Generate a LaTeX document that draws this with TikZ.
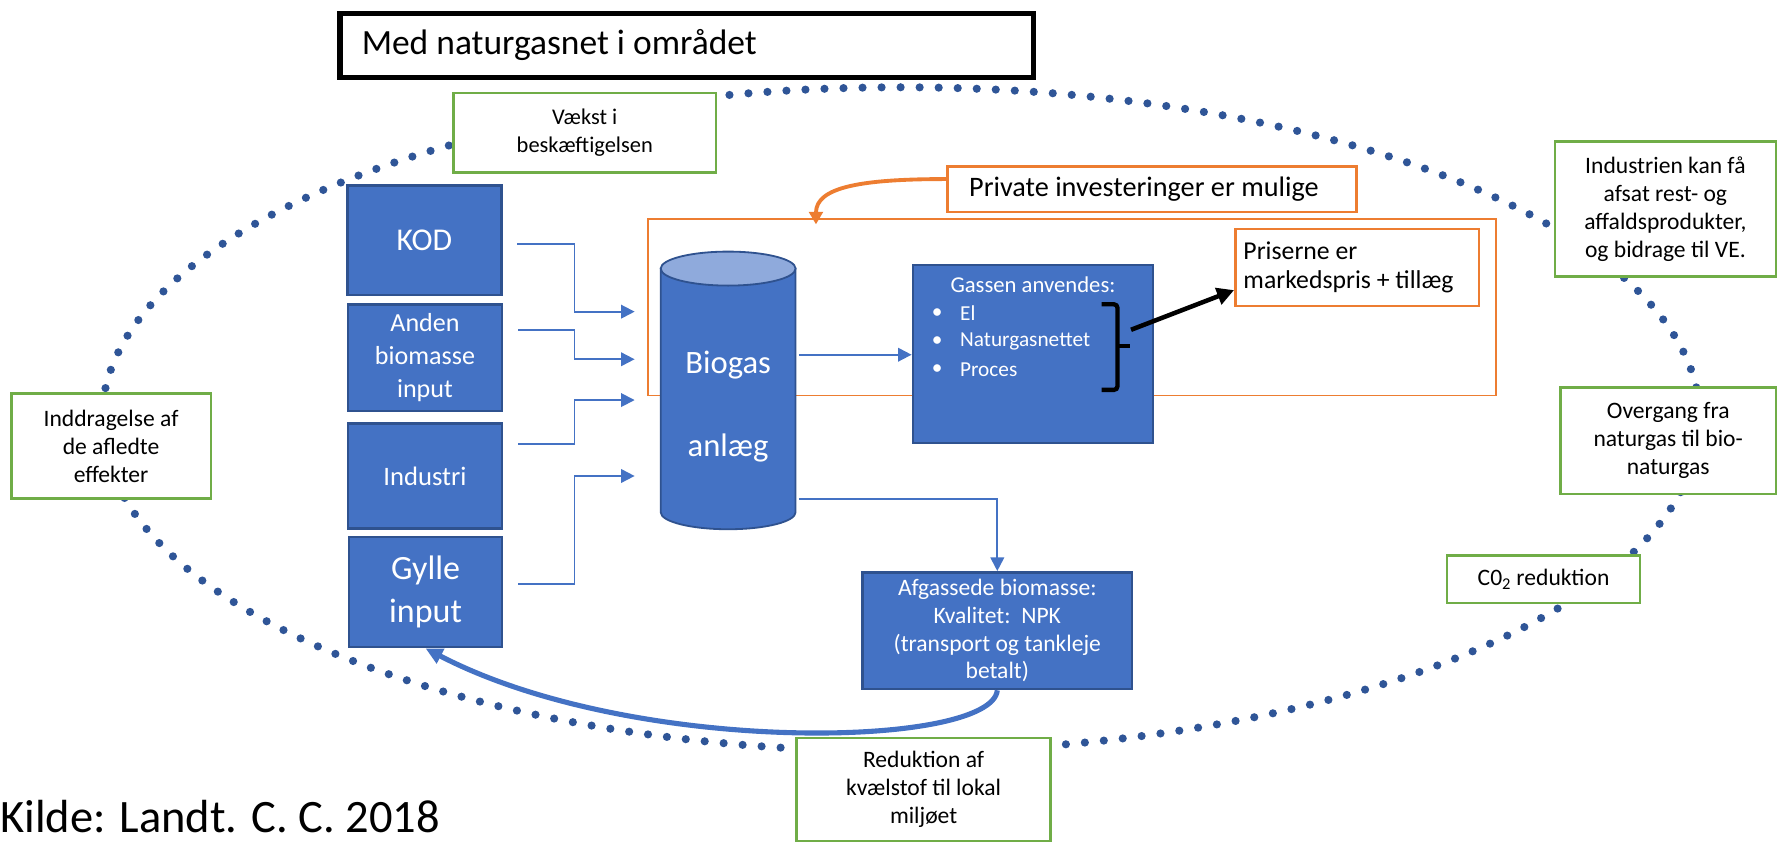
\documentclass[tikz,border=0pt]{standalone}
\usepackage{fontspec}
\setmainfont{Carlito}
\usetikzlibrary{arrows.meta}
\definecolor{bfill}{HTML}{4472C4}
\definecolor{bedge}{HTML}{2F528F}
\definecolor{ctop}{HTML}{8FAADC}
\definecolor{gline}{HTML}{70AD47}
\definecolor{oline}{HTML}{ED7D31}
\definecolor{dotc}{HTML}{2F5597}
\begin{document}
\begin{tikzpicture}[x=1pt,y=-1pt,
  bluebox/.style={draw=bedge, fill=bfill, line width=2.2, text=white, align=center, inner sep=0pt},
  greenbox/.style={draw=gline, fill=white, line width=2.2, align=center, inner sep=0pt, font=\fontsize{20.8}{24.7}\selectfont},
  orangebox/.style={draw=oline, fill=white, line width=2.2, inner sep=0pt},
  conn/.style={draw=bfill, line width=1.6, -{Triangle[length=12pt,width=12pt]}},
  dotline/.style={draw=dotc, line width=7.2, line cap=round, dash pattern=on 0pt off 16.8pt}
]
\useasboundingbox (0,0) rectangle (1568,745);
% dotted ellipse
\draw[dotline] (795,370) ellipse[x radius=705, y radius=293];
% big orange frame
\draw[draw=oline, line width=1.4] (572,193) rectangle (1320,349);
% title
\node[draw=black, line width=4.5, minimum width=612, minimum height=56, inner sep=0pt] (title) at (606,40) {};
\node[anchor=west, inner sep=0pt, font=\fontsize{31.3}{34}\selectfont] (titletext) at (319,40) {Med naturgasnet i området};
% green boxes
\node[greenbox, minimum width=232, minimum height=70, font=\fontsize{19.8}{24.5}\selectfont] (vaekst) at (516,117) {Vækst i\\beskæftigelsen};
\node[greenbox, minimum width=176, minimum height=93] (indd) at (98,393.5) {Inddragelse af\\de afledte\\effekter};
\node[greenbox, minimum width=195, minimum height=119] (industrien) at (1469.5,184.5) {Industrien kan få\\afsat rest- og\\affaldsprodukter,\\og bidrage til VE.};
\node[greenbox, minimum width=190, minimum height=94] (overgang) at (1472,389) {Overgang fra\\naturgas til bio-\\naturgas};
\node[greenbox, minimum width=170, minimum height=42] (co2) at (1362,511) {C0\textsubscript{2} reduktion};
\node[greenbox, minimum width=224, minimum height=91] (reduk) at (815,696.5) {Reduktion af\\kvælstof til lokal\\miljøet};
% orange boxes
\node[orangebox, minimum width=361, minimum height=40] (private) at (1016.5,167) {};
\node[anchor=west, inner sep=0pt, font=\fontsize{24.9}{28}\selectfont] at (855,167) {Private investeringer er mulige};
\node[orangebox, minimum width=215, minimum height=68] (priser) at (1197.5,236) {};
\node[anchor=west, inner sep=0pt, align=left, font=\fontsize{22.7}{26}\selectfont] at (1097,236) {Priserne er\\markedspris + tillæg};
% blue input boxes
\node[bluebox, minimum width=136, minimum height=97, font=\fontsize{28}{30}\selectfont] (kod) at (374.5,212) {KOD};
\node[bluebox, minimum width=136, minimum height=94, font=\fontsize{23}{29.4}\selectfont] (anden) at (375,315.5) {Anden\\biomasse\\input};
\node[bluebox, minimum width=136, minimum height=93, font=\fontsize{23.5}{26}\selectfont] (industri) at (375,420) {Industri};
\node[bluebox, minimum width=135, minimum height=97, font=\fontsize{30}{38}\selectfont] (gylle) at (375.5,522.5) {Gylle\\input};
% cylinder
\draw[draw=bedge, fill=bfill, line width=1.6] (583,237) -- (583,452) arc[start angle=180, end angle=0, x radius=59.5, y radius=15] -- (702,237) -- cycle;
\draw[draw=bedge, fill=ctop, line width=1.6] (642.5,237) ellipse[x radius=59.5, y radius=15];
\node[text=white, font=\fontsize{28.8}{32}\selectfont] (biogas) at (642.5,322) {Biogas};
\node[text=white, font=\fontsize{28.8}{32}\selectfont] (anlaeg) at (642.5,395) {anlæg};
\coordinate (cylout) at (705,313);
\coordinate (cylout2) at (705,440);
% Gassen box
\node[bluebox, minimum width=212, minimum height=157] (gassen) at (911.5,312.5) {};
\node[text=white, inner sep=0pt, font=\fontsize{20}{24}\selectfont] at (911.5,251) {Gassen anvendes:};
\foreach \yy/\tt in {276.5/El, 301/Naturgasnettet, 326.5/Proces}{
  \node[text=white, inner sep=0pt, font=\fontsize{18.8}{22}\selectfont] at (827,\yy) {•};
  \node[text=white, inner sep=0pt, anchor=west, font=\fontsize{18.8}{22}\selectfont] at (847,\yy) {\tt};
}
% Afgassede box
\node[bluebox, minimum width=238, minimum height=103, font=\fontsize{20.8}{24.5}\selectfont] (afgas) at (880,556.5) {Afgassede biomasse:\\Kvalitet:\ \ NPK\\(transport og tankleje\\betalt)};
% brace
\draw[black, line width=3.8, rounded corners=3pt] (972,268.5) -- (986,268.5) -- (986,344) -- (972,344);
\draw[black, line width=3.8] (986,305) -- (997,305);
\coordinate (brace) at (998,291);
\draw[black, line width=4, -{Triangle[length=15pt,width=15pt]}] (brace) -- (priser.west |- 0,256);
% input connectors
\coordinate (in1) at (560,275);
\coordinate (in2) at (560,317);
\coordinate (in3) at (560,353);
\coordinate (in4) at (560,420);
\draw[conn] ([xshift=13pt]kod.east |- 0,215) -| (507,275) -- (in1);
\draw[conn] ([xshift=13pt]anden.east |- 0,291) -| (507,317) -- (in2);
\draw[conn] ([xshift=13pt]industri.east |- 0,392) -| (507,353) -- (in3);
\draw[conn] ([xshift=13pt]gylle.east |- 0,515) -| (507,420) -- (in4);
\draw[conn] (cylout) -- (gassen.west |- cylout);
\draw[conn] (cylout2) -| (afgas.north);
% orange arrow
\draw[draw=oline, line width=3.4, -{Triangle[length=11pt,width=12pt]}] (private.west |- 0,158) .. controls (760,158) and (720,165) .. (720,198);
% recycling curve
\draw[draw=bfill, line width=4.5, -{Triangle[length=15pt,width=14pt]}] (afgas.south) .. controls (875,660) and (560,668) .. (gylle.south);
% source
\node[anchor=base west, inner sep=0pt, font=\fontsize{41}{43}\selectfont] (kilde) at (0,735) {Kilde: Landt. C. C. 2018};
\end{tikzpicture}
\end{document}
